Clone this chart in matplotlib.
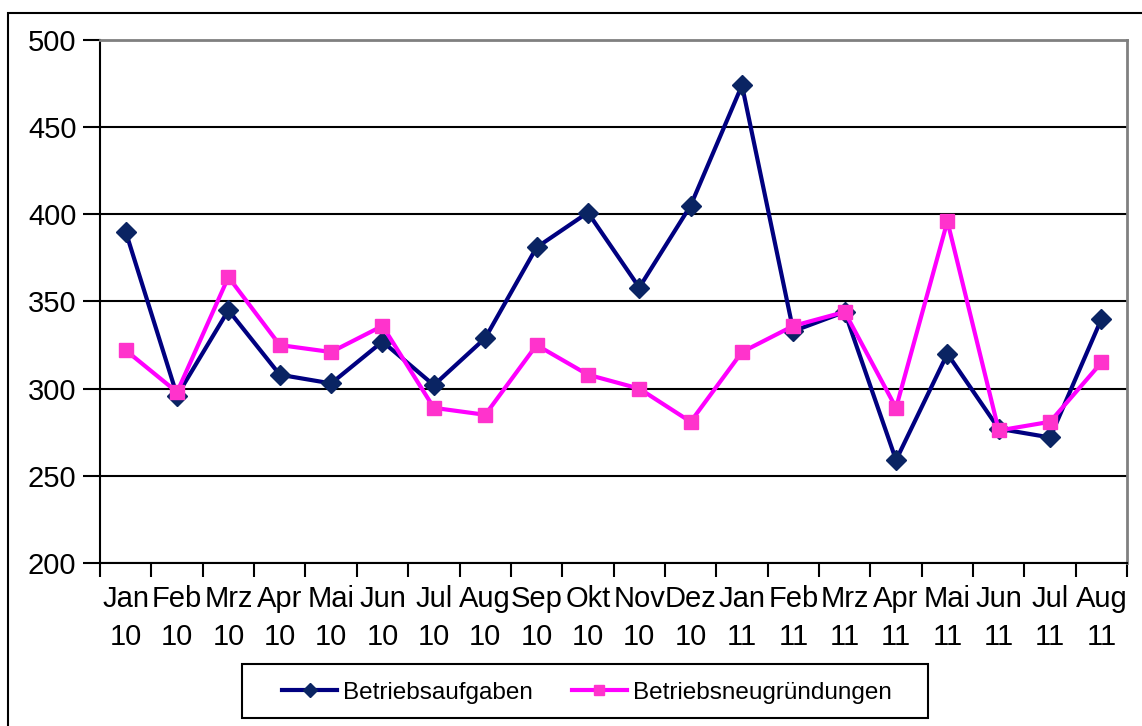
import numpy as np
import matplotlib.pyplot as plt
from matplotlib.patches import Rectangle

plt.rcParams['font.family'] = ['Liberation Sans', 'DejaVu Sans']

months = ["Jan\n10", "Feb\n10", "Mrz\n10", "Apr\n10", "Mai\n10", "Jun\n10", "Jul\n10",
          "Aug\n10", "Sep\n10", "Okt\n10", "Nov\n10", "Dez\n10", "Jan\n11", "Feb\n11",
          "Mrz\n11", "Apr\n11", "Mai\n11", "Jun\n11", "Jul\n11", "Aug\n11"]
aufgaben = [390, 296, 345, 308, 303, 327, 302, 329, 381, 401,
            358, 405, 474, 333, 344, 259, 320, 277, 272, 340]
neugruendungen = [322, 298, 364, 325, 321, 336, 289, 285, 325, 308,
                  300, 281, 321, 336, 344, 289, 396, 276, 281, 315]

fig = plt.figure(figsize=(11.42, 7.26), dpi=100)
ax = fig.add_axes([0.0876, 0.2245, 0.8994, 0.7205])

x = np.arange(len(months))
ax.plot(x, aufgaben, color="#000080", lw=3, marker="D", ms=10,
        mfc="#0a2463", mec="#0a2463", label="Betriebsaufgaben", zorder=3)
ax.plot(x, neugruendungen, color="#ff00ff", lw=3, marker="s", ms=10,
        mfc="#ff33cc", mec="#ff33cc", label="Betriebsneugründungen", zorder=3)

ax.set_xlim(-0.5, len(months) - 0.5)
ax.set_ylim(200, 500)
ax.set_yticks(np.arange(200, 501, 50))
ax.tick_params(axis="y", labelsize=21, length=12, width=1.5, direction="out", pad=5)
ax.set_xticks(x)
ax.set_xticklabels(months, fontsize=21, linespacing=1.45)
ax.tick_params(axis="x", which="major", length=0, pad=16)
ax.set_xticks(np.arange(-0.5, len(months), 1), minor=True)
ax.tick_params(axis="x", which="minor", length=10, width=1.5, direction="out")

ax.set_axisbelow(True)
ax.grid(axis="y", color="black", lw=1.5)
for s in ["left", "bottom"]:
    ax.spines[s].set_color("black")
    ax.spines[s].set_linewidth(1.5)
for s in ["top", "right"]:
    ax.spines[s].set_color("#808080")
    ax.spines[s].set_linewidth(2)

# outer chart border
fig.patches.append(Rectangle((0.007, -0.05), 1.2, 1.032, transform=fig.transFigure,
                             fill=False, ec="black", lw=1.5))
# legend box
fig.patches.append(Rectangle((242 / 1142, 1 - 718 / 726), 686 / 1142, 54 / 726,
                             transform=fig.transFigure, fill=False, ec="black", lw=1.5))

leg = fig.legend(loc="center", bbox_to_anchor=(587 / 1142, 0.046), ncol=2, fontsize=17.5,
                 frameon=False, handlelength=2.25, handletextpad=0.25,
                 columnspacing=1.6, markerscale=0.75)

fig.savefig("out.png", dpi=100)
